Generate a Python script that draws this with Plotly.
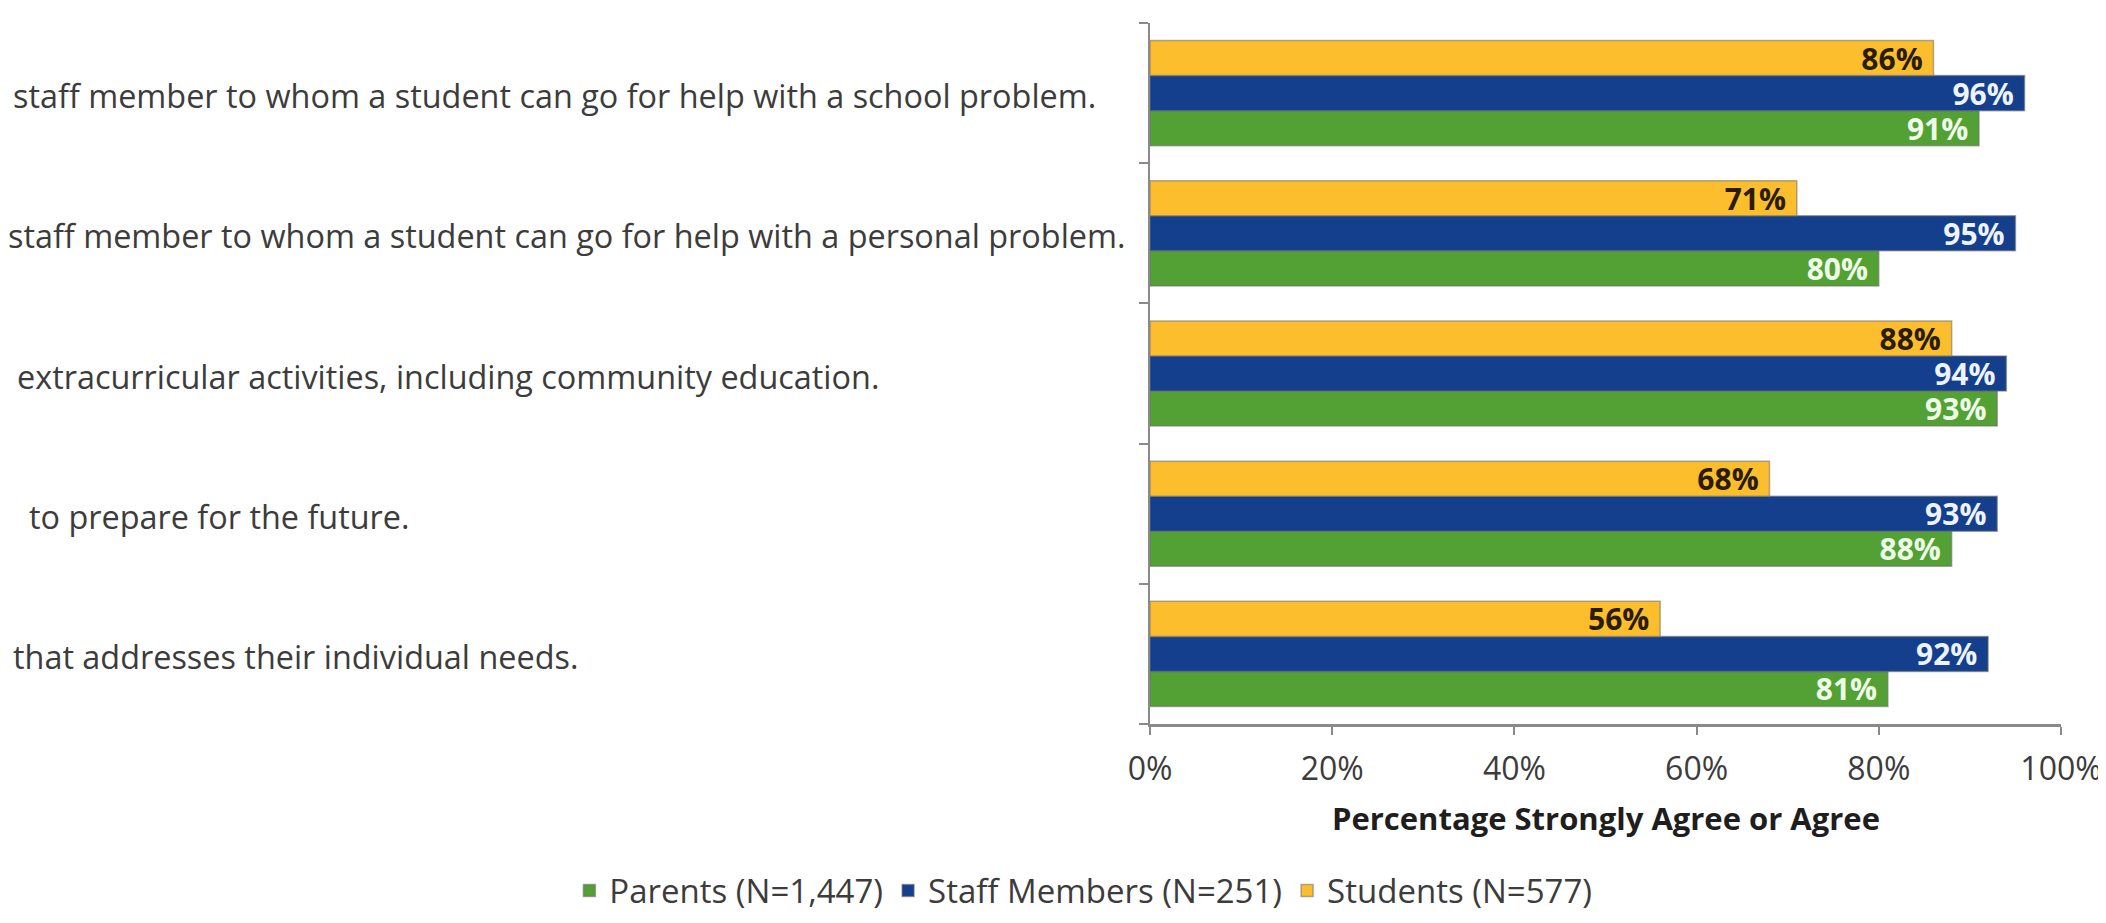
import plotly.graph_objects as go

categories = [
    "staff member to whom a student can go for help with a school problem.",
    "staff member to whom a student can go for help with a personal problem.",
    "extracurricular activities, including community education.",
    "to prepare for the future.",
    "that addresses their individual needs.",
]
parents = [91, 80, 93, 88, 81]
staff = [96, 95, 94, 93, 92]
students = [86, 71, 88, 68, 56]
series_names = ["Parents (N=1,447)", "Staff Members (N=251)", "Students (N=577)"]
x_ticks = [0, 20, 40, 60, 80, 100]

W, H = 2106, 923
L, R, T, B = 1142, 2058, 15, 735
FONT = "Open Sans"

fig = go.Figure()
specs = [
    (parents, "#53A034", "#EEFBE8"),
    (staff, "#133F8C", "#EEF3FF"),
    (students, "#FCBE2D", "#2A1C00"),
]
for (vals, col, tcol), name in zip(specs, series_names):
    fig.add_trace(go.Bar(
        y=categories, x=vals, name=name, orientation="h",
        marker=dict(color=col, line=dict(color="rgba(110,110,110,0.55)", width=1.5)),
        text=[f"{v}%\u00a0" for v in vals], textposition="inside", insidetextanchor="end",
        textangle=0,
        textfont=dict(family=FONT, size=30, color=tcol, weight="bold"),
        hoverinfo="skip",
    ))

pw = R - L
ph = B - T
def px_x(px):
    return (px - L) / pw
def px_y(py):
    return (B - py) / ph

# right end of each (left-aligned, truncated) category label in the picture
label_ends = [1090, 1120, 872, 400, 569]
for cat, ex in zip(categories, label_ends):
    fig.add_annotation(
        x=px_x(ex), xref="paper", y=cat, yref="y", xanchor="right", yanchor="middle",
        yshift=-2,
        text=cat, showarrow=False, align="left",
        font=dict(family=FONT, size=32.4, color="#3C3C3C"),
    )

fig.add_annotation(
    x=0.5, xref="paper", y=px_y(832), yref="paper", xanchor="center", yanchor="middle",
    text="<b>Percentage Strongly Agree or Agree</b>", showarrow=False,
    font=dict(family=FONT, size=31, color="#1E1E1E"),
)

fig.update_layout(
    width=W, height=H,
    margin=dict(l=L, r=W - R, t=T, b=H - B, pad=0),
    barmode="group", bargap=0.25, bargroupgap=0,
    plot_bgcolor="white", paper_bgcolor="white",
    font=dict(family=FONT, size=31, color="#3C3C3C"),
    uniformtext=dict(minsize=30, mode="show"),
    showlegend=True,
    legend=dict(
        orientation="h", x=px_x(1075), xanchor="center", y=px_y(906), yanchor="middle",
        font=dict(family=FONT, size=33, color="#3C3C3C"), traceorder="normal",
        itemwidth=30, bgcolor="rgba(0,0,0,0)",
    ),
    xaxis=dict(
        range=[0, 100], tickvals=x_ticks, ticktext=[f"{v}%" for v in x_ticks],
        showgrid=False, zeroline=False, showline=True, linecolor="#8A8A8A", linewidth=2.5,
        ticks="outside", ticklen=8, tickwidth=2, tickcolor="#8A8A8A",
        tickfont=dict(family=FONT, size=32, color="#3C3C3C"), ticklabelstandoff=7,
        fixedrange=True,
    ),
    yaxis=dict(
        type="category", categoryorder="array", categoryarray=categories[::-1],
        range=[-0.5, 4.5], showticklabels=False, showgrid=False, zeroline=False,
        showline=True, linecolor="#8A8A8A", linewidth=2,
        ticks="outside", tickson="boundaries", ticklen=9, tickwidth=2, tickcolor="#8A8A8A",
        fixedrange=True,
    ),
)

fig.write_html("out.html")
